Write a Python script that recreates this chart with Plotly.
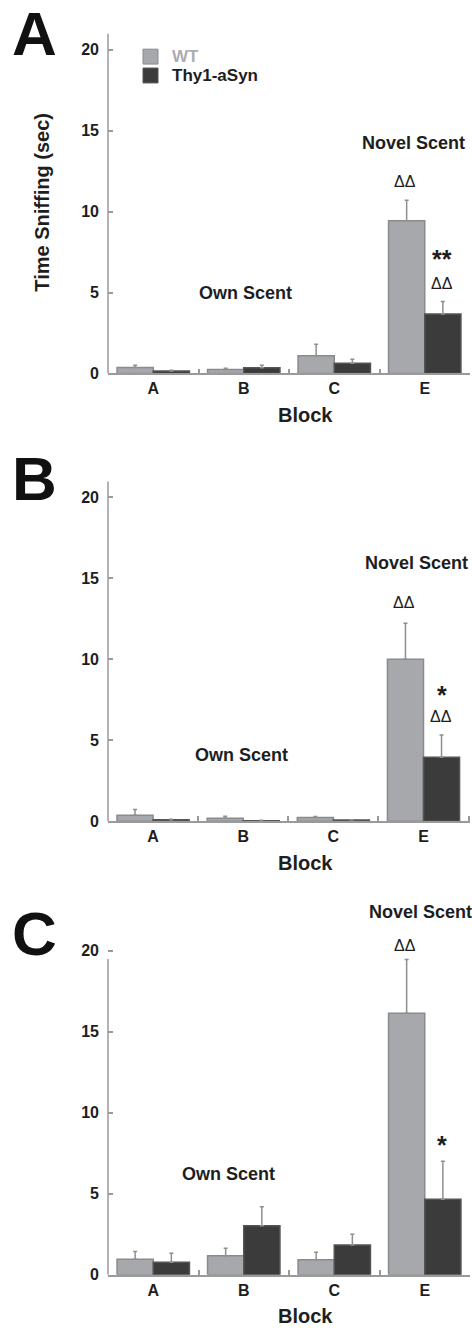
import plotly.graph_objects as go

blocks = ["A", "B", "C", "E"]

# Panel A
wt_a = [0.37, 0.25, 1.10, 9.43]
wt_a_err = [0.13, 0.07, 0.70, 1.27]
tg_a = [0.15, 0.35, 0.63, 3.68]
tg_a_err = [0.05, 0.15, 0.25, 0.76]

# Panel B
wt_b = [0.37, 0.18, 0.22, 10.0]
wt_b_err = [0.35, 0.12, 0.06, 2.23]
tg_b = [0.08, 0.03, 0.07, 3.95]
tg_b_err = [0.04, 0.02, 0.02, 1.37]

# Panel C
wt_c = [0.96, 1.17, 0.92, 16.15]
wt_c_err = [0.47, 0.46, 0.47, 3.32]
tg_c = [0.77, 3.02, 1.84, 4.66]
tg_c_err = [0.56, 1.17, 0.65, 2.34]

panels = [
    ("A", wt_a, wt_a_err, tg_a, tg_a_err),
    ("B", wt_b, wt_b_err, tg_b, tg_b_err),
    ("C", wt_c, wt_c_err, tg_c, tg_c_err),
]

H = 1339.0
W = 472.0
PL = 108.0
PR = 470.0
zero_px = [376.0, 826.7, 1283.3]
unit_px = 16.3
YMAX = 21

WT_FILL = "#a7a8ac"
WT_LINE = "#8a8b8e"
TG_FILL = "#3b3b3b"
TG_LINE = "#555555"
ERR_COL = "#8f8f8f"
AX_COL = "#9a9a9a"
TXT = "#1e1e1e"
FONT = "Liberation Sans, Arial, sans-serif"


def px_x(p):
    return p / W


def px_y(p):
    return 1 - p / H


fig = go.Figure()
layout = dict(
    width=472, height=1339,
    margin=dict(l=0, r=0, t=0, b=0),
    paper_bgcolor="white", plot_bgcolor="white",
    barmode="group", bargap=0.2, bargroupgap=0.0,
    showlegend=False,
    font=dict(family=FONT, color=TXT),
)

annotations = []
shapes = []

for i, (letter, wt, wte, tg, tge) in enumerate(panels):
    k = "" if i == 0 else str(i + 1)
    xa = "x" + k
    ya = "y" + k
    z = zero_px[i]
    top = z - YMAX * unit_px
    dom = [1 - z / H, 1 - top / H]
    fig.add_trace(go.Bar(
        x=blocks, y=wt, name="WT",
        marker=dict(color=WT_FILL, line=dict(color=WT_LINE, width=1.5)),
        error_y=dict(type="data", array=wte, symmetric=False, arrayminus=[0] * 4,
                     color=ERR_COL, thickness=1.5, width=2),
        xaxis=xa, yaxis=ya,
    ))
    fig.add_trace(go.Bar(
        x=blocks, y=tg, name="Thy1-aSyn",
        marker=dict(color=TG_FILL, line=dict(color=TG_LINE, width=1.5)),
        error_y=dict(type="data", array=tge, symmetric=False, arrayminus=[0] * 4,
                     color=ERR_COL, thickness=1.5, width=2),
        xaxis=xa, yaxis=ya,
    ))
    layout["xaxis" + k] = dict(
        domain=[PL / W, PR / W], anchor=ya,
        type="category", categoryorder="array", categoryarray=blocks,
        showline=True, linecolor=AX_COL, linewidth=1.5,
        ticks="inside", tickson="boundaries", ticklen=5, tickcolor=AX_COL, tickwidth=1.5,
        tickfont=dict(family=FONT, size=16, color=TXT, weight="bold"),
        showgrid=False, zeroline=False, fixedrange=True,
    )
    ymax_line = 19.5 if letter == "C" else YMAX
    layout["yaxis" + k] = dict(
        domain=dom, anchor=xa, range=[0, YMAX],
        tickvals=[0, 5, 10, 15, 20], ticktext=["0", "5", "10", "15", "20"],
        showline=False,
        ticks="inside", ticklen=5, tickcolor=AX_COL, tickwidth=1.5,
        ticklabelstandoff=8,
        tickfont=dict(family=FONT, size=16, color=TXT, weight="bold"),
        showgrid=False, zeroline=False, fixedrange=True,
    )
    shapes.append(dict(type="line", xref=xa + " domain", yref=ya,
                       x0=0, x1=0, y0=0, y1=ymax_line,
                       line=dict(color=AX_COL, width=1.5)))
    letter_y = [34, 482, 940][i]
    annotations.append(dict(
        text="<b>%s</b>" % letter, xref="paper", yref="paper",
        x=px_x(34), y=px_y(letter_y), xanchor="center", yanchor="middle",
        showarrow=False, font=dict(family=FONT, size=62, color="#111"),
    ))
    annotations.append(dict(
        text="<b>Block</b>", xref="paper", yref="paper",
        x=px_x(305), y=px_y(z + 42), xanchor="center", yanchor="middle",
        showarrow=False, font=dict(family=FONT, size=20, color=TXT),
    ))


def ann(text, xa, ya, x, y, xshift=0, size=18):
    annotations.append(dict(
        text=text, xref=xa, yref=ya, x=x, y=y, xshift=xshift,
        xanchor="center", yanchor="middle", showarrow=False,
        font=dict(family=FONT, size=size, color=TXT),
    ))


# Panel A
ann("<b>Novel Scent</b>", "x", "y", "E", 14.23, -11)
ann("ΔΔ", "x", "y", "E", 11.84, -20, 16)
ann("<b>**</b>", "x", "y", "E", 7.09, 17, 25)
ann("ΔΔ", "x", "y", "E", 5.58, 17, 16)
ann("<b>Own Scent</b>", "x", "y", "B", 4.97, 2)
# Panel B
ann("<b>Novel Scent</b>", "x2", "y2", "E", 15.96, -7)
ann("ΔΔ", "x2", "y2", "E", 13.5, -20, 16)
ann("<b>*</b>", "x2", "y2", "E", 7.8, 18, 25)
ann("ΔΔ", "x2", "y2", "E", 6.45, 17, 16)
ann("<b>Own Scent</b>", "x2", "y2", "B", 4.09, -2)
# Panel C
annotations.append(dict(
    text="<b>Novel Scent</b>", xref="paper", yref="paper",
    x=px_x(420), y=px_y(918), xanchor="center", yanchor="middle",
    showarrow=False, font=dict(family=FONT, size=18, color=TXT),
))
ann("ΔΔ", "x3", "y3", "E", 20.34, -20, 16)
ann("<b>*</b>", "x3", "y3", "E", 8.02, 17, 25)
ann("<b>Own Scent</b>", "x3", "y3", "B", 6.23, -15)

# Y-axis title (panel A only)
annotations.append(dict(
    text="<b>Time Sniffing (sec)</b>", xref="paper", yref="paper",
    x=px_x(42), y=px_y(204), xanchor="center", yanchor="middle",
    textangle=-90, showarrow=False, font=dict(family=FONT, size=20, color=TXT),
))

# Legend (panel A)
legend_items = [("WT", WT_FILL, WT_LINE, "#acadb1", 57), ("Thy1-aSyn", TG_FILL, TG_LINE, TXT, 76)]
for name, fill, line, tcol, cy in legend_items:
    shapes.append(dict(type="rect", xref="paper", yref="paper",
                       x0=px_x(143), x1=px_x(158), y0=px_y(cy + 7.5), y1=px_y(cy - 7.5),
                       fillcolor=fill, line=dict(color=line, width=1)))
    annotations.append(dict(
        text="<b>%s</b>" % name, xref="paper", yref="paper",
        x=px_x(170), y=px_y(cy), xanchor="left", yanchor="middle",
        showarrow=False, font=dict(family=FONT, size=17, color=tcol),
    ))

layout["annotations"] = annotations
layout["shapes"] = shapes

fig.update_layout(**layout)
fig.write_html("out.html", config={"displayModeBar": False},
               post_script="document.body.style.margin='0';document.body.style.overflow='hidden';")
